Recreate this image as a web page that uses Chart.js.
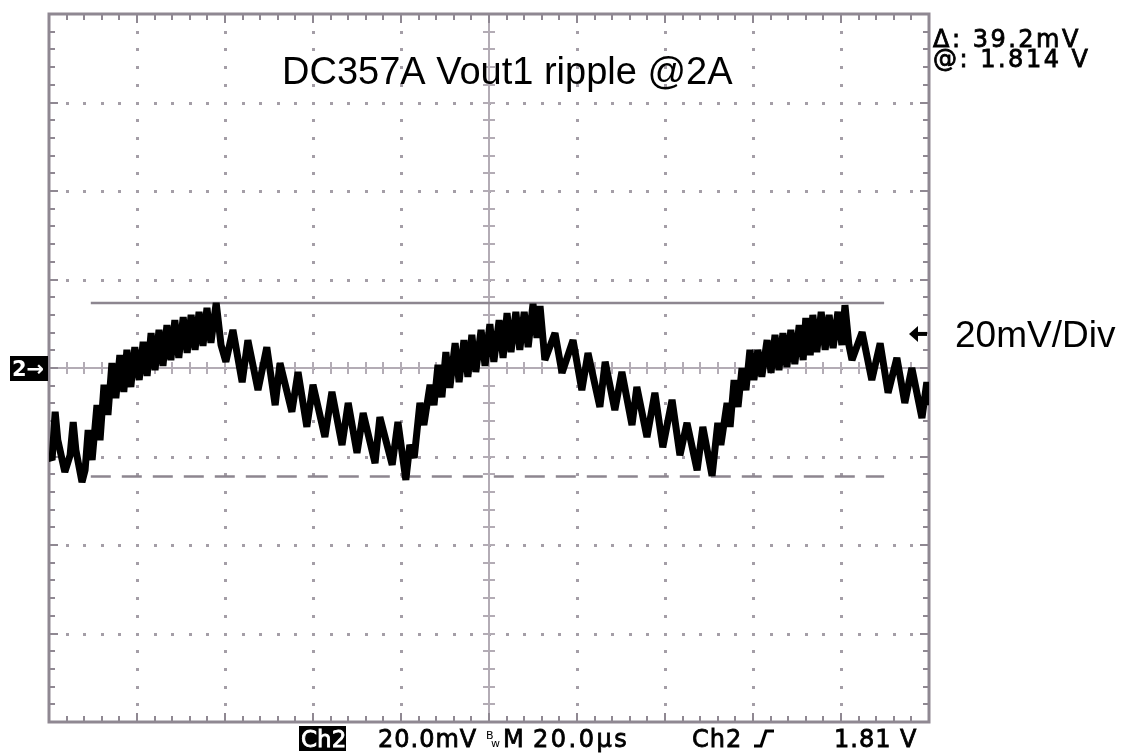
<!DOCTYPE html>
<html>
<head>
<meta charset="utf-8">
<script src="https://cdn.jsdelivr.net/npm/chart.js@4/dist/chart.umd.min.js"></script>
<style>
  html, body { margin: 0; padding: 0; background: #fff; }
  canvas { display: block; }
</style>
</head>
<body>
<canvas id="scope" width="1122" height="753"></canvas>
<script>
// time axis: 20 us/div, 10 divisions; volt axis: 20 mV/div, 8 divisions (offset 1.81 V)
const timeRange = [0, 200];
const mvRange = [-80, 80];
const usPerDiv = 20;
const mvPerDiv = 20;

// Vout1 ripple trace (us, mV)
const timeUs = [
  0.0, 0.7, 1.4, 2.0, 3.6, 4.8, 5.5, 6.1, 7.5, 8.2, 8.9, 9.8, 10.9, 11.6, 12.5, 13.4, 14.3, 15.2, 16.1, 17.0,
  17.7, 18.6, 19.5, 20.5, 21.4, 22.3, 23.2, 24.1, 25.0, 25.9, 26.8, 27.7, 28.6, 29.5, 30.5, 31.4, 32.3, 33.2,
  34.1, 35.0, 35.9, 36.8, 38.0,
  39.1, 40.2, 41.8, 43.9, 45.2, 47.5, 49.5, 51.4, 52.5, 55.2, 56.6, 58.6, 60.0, 62.7, 64.3, 66.6, 68.0, 70.0,
  71.4, 74.1, 75.2, 78.0, 79.3, 81.1,
  82.0, 83.0, 84.3, 85.2, 86.6, 87.5, 88.4, 89.3, 90.2, 91.1, 92.3, 93.2, 94.3, 95.2, 96.1, 97.0, 98.2, 99.1,
  100.2, 101.1, 102.3, 103.2, 104.1, 105.0, 106.1, 107.0, 108.0, 108.9, 110.0, 110.9, 111.6, 112.7,
  115.0, 116.6, 119.1, 121.1, 122.5, 125.2, 126.4, 128.6, 130.2, 132.5, 133.6, 135.9, 137.7, 139.5, 141.6,
  143.4, 145.0, 147.3, 148.6, 150.7,
  152.0, 152.7, 154.1, 154.8, 155.7, 156.6, 157.5, 158.4, 159.3, 160.2, 161.1, 162.0, 163.2, 164.1, 165.0,
  165.9, 166.8, 167.7, 168.6, 169.5, 170.5, 171.4, 172.0, 173.0, 173.6, 174.5, 175.5, 176.4, 177.3, 178.2,
  179.3, 180.2, 180.9, 181.8, 182.5,
  184.8, 187.0, 188.9, 190.7, 192.7, 194.5, 196.1, 198.4, 199.5, 200.0
];
const rippleMv = [
  -19.7, -20.8, -9.9, -16.3, -23.5, -19.7, -12.2, -18.5, -25.8, -23.1, -14.0, -20.8, -8.4, -16.3, -3.8, -10.6, 1.1, -6.8, 2.9, -5.4,
  4.1, -4.3, 4.7, -2.7, 5.9, -1.8, 7.9, -0.5, 8.6, 0.5, 9.7, 1.8, 10.8, 2.3, 11.5, 3.4, 12.0, 4.1,
  12.7, 5.0, 13.6, 5.7, 14.7,
  5.2, 1.4, 8.6, -3.2, 6.3, -5.0, 4.7, -8.4, 1.1, -9.9, -0.9, -13.3, -3.8, -15.6, -5.4, -17.4, -7.9, -19.2,
  -10.2, -21.5, -11.1, -21.9, -12.2, -25.3,
  -17.4, -20.3, -7.9, -12.9, -3.8, -8.4, 0.7, -6.6, 3.6, -4.5, 5.6, -3.2, 6.3, -2.0, 7.5, -0.9, 8.6, 0.5,
  9.9, 1.4, 10.8, 2.3, 12.4, 3.6, 12.7, 4.1, 12.7, 4.7, 14.5, 6.8, 14.0, 1.8,
  7.9, -1.1, 6.3, -5.0, 3.4, -8.8, 1.4, -9.5, -0.9, -12.9, -4.3, -15.6, -5.6, -17.9, -7.2,
  -19.7, -12.4, -23.1, -13.3, -24.4,
  -12.4, -17.4, -7.9, -13.3, -2.7, -8.8, 0.0, -5.0, 4.1, -2.7, 4.1, -2.0, 6.3, -1.1, 7.5,
  -0.5, 7.9, 0.2, 8.6, 0.9, 9.7, 1.8, 11.3, 2.9, 12.0, 3.6, 12.7, 4.1, 12.0, 4.5,
  12.7, 5.2, 14.2, 5.2, 1.8,
  8.1, -2.7, 5.6, -5.6, 2.3, -7.9, 0.0, -11.3, -3.2, -8.4
];

// horizontal bar cursors (mV) and their span (us)
const cursorMv = [14.7, -24.5];
const cursorSpanUs = [9.5, 189.8];
const triggerMv = 7.7;
const groundMv = 0;

const GRID = '#a49ea7';
const FRAME = '#8f8892';
const CURSOR = '#8d8690';

const trace = timeUs.map((t, i) => ({ x: t, y: rippleMv[i] }));
const cursorLine = v => cursorSpanUs.map(t => ({ x: t, y: v }));

// scope-style text: regular face with a thin outline to thicken it a bit
function scopeText(ctx, str, x, y) {
  ctx.fillText(str, x, y);
  ctx.strokeText(str, x, y);
}

const graticule = {
  id: 'graticule',
  beforeDatasetsDraw(chart) {
    const { ctx, chartArea: a, scales: { x, y } } = chart;
    const xDivs = (timeRange[1] - timeRange[0]) / usPerDiv;
    const yDivs = (mvRange[1] - mvRange[0]) / mvPerDiv;
    const xMinor = usPerDiv / 5, yMinor = mvPerDiv / 5;
    const cx = x.getPixelForValue((timeRange[0] + timeRange[1]) / 2);
    const cy = y.getPixelForValue((mvRange[0] + mvRange[1]) / 2);
    ctx.save();
    ctx.fillStyle = GRID;
    // dotted division lines
    for (let i = 1; i < xDivs; i++) {
      if (i === xDivs / 2) continue;
      const px = Math.round(x.getPixelForValue(i * usPerDiv));
      for (let v = mvRange[0] + yMinor; v < mvRange[1]; v += yMinor) {
        ctx.fillRect(px - 1, Math.round(y.getPixelForValue(v)) - 1, 3, 3);
      }
    }
    for (let j = 1; j < yDivs; j++) {
      if (j === yDivs / 2) continue;
      const py = Math.round(y.getPixelForValue(mvRange[0] + j * mvPerDiv));
      for (let t = xMinor; t < timeRange[1]; t += xMinor) {
        ctx.fillRect(Math.round(x.getPixelForValue(t)) - 1, py - 1, 3, 3);
      }
    }
    // centre cross
    ctx.strokeStyle = '#b3acb5';
    ctx.lineWidth = 2;
    ctx.beginPath();
    ctx.moveTo(a.left, cy); ctx.lineTo(a.right, cy);
    ctx.moveTo(cx, a.top); ctx.lineTo(cx, a.bottom);
    ctx.stroke();
    ctx.beginPath();
    for (let t = xMinor; t < timeRange[1]; t += xMinor) {
      const px = Math.round(x.getPixelForValue(t));
      ctx.moveTo(px, cy - 6); ctx.lineTo(px, cy + 6);
    }
    for (let v = mvRange[0] + yMinor; v < mvRange[1]; v += yMinor) {
      const py = Math.round(y.getPixelForValue(v));
      ctx.moveTo(cx - 6, py); ctx.lineTo(cx + 6, py);
    }
    ctx.stroke();
    // frame ticks
    ctx.strokeStyle = FRAME;
    ctx.beginPath();
    for (let t = xMinor; t < timeRange[1]; t += xMinor) {
      const px = Math.round(x.getPixelForValue(t));
      const len = Math.abs(t % usPerDiv) < 0.01 ? 9 : 6;
      ctx.moveTo(px, a.top); ctx.lineTo(px, a.top + len);
      ctx.moveTo(px, a.bottom); ctx.lineTo(px, a.bottom - len);
    }
    for (let v = mvRange[0] + yMinor; v < mvRange[1]; v += yMinor) {
      const py = Math.round(y.getPixelForValue(v));
      const len = Math.abs(v % mvPerDiv) < 0.01 ? 9 : 6;
      ctx.moveTo(a.left, py); ctx.lineTo(a.left + len, py);
      ctx.moveTo(a.right, py); ctx.lineTo(a.right - len, py);
    }
    ctx.stroke();
    ctx.lineWidth = 3;
    ctx.strokeRect(a.left, a.top, a.right - a.left, a.bottom - a.top);
    ctx.restore();
  },
  afterDraw(chart) {
    const { ctx, chartArea: a, scales: { y } } = chart;
    ctx.save();
    ctx.fillStyle = '#000';
    ctx.strokeStyle = '#000';
    ctx.textBaseline = 'alphabetic';
    ctx.font = '38px "Liberation Sans", Arial, sans-serif';
    ctx.fillText('DC357A Vout1 ripple @2A', 282, 84);
    ctx.font = '37px "Liberation Sans", Arial, sans-serif';
    ctx.fillText('20mV/Div', 955, 347);

    ctx.font = '24px "DejaVu Sans", sans-serif';
    ctx.letterSpacing = '2.5px';
    ctx.lineWidth = 0.8;
    scopeText(ctx, '\u0394: 39.2mV', 933, 47);
    scopeText(ctx, '@: 1.814 V', 933, 67);

    // channel ground marker
    const gy = y.getPixelForValue(groundMv);
    ctx.fillRect(10, gy - 12, 38, 25);
    ctx.fillStyle = '#fff';
    ctx.font = 'bold 21px "DejaVu Sans", sans-serif';
    ctx.letterSpacing = '0px';
    ctx.fillText('2\u2192', 12, gy + 8);

    // trigger level marker
    const ty = y.getPixelForValue(triggerMv);
    ctx.fillStyle = '#000';
    ctx.beginPath();
    ctx.moveTo(a.right - 20, ty);
    ctx.lineTo(a.right - 11, ty - 8);
    ctx.lineTo(a.right - 11, ty + 8);
    ctx.closePath();
    ctx.fill();
    ctx.fillRect(a.right - 12, ty - 2, 10, 4);

    // status line
    const by = 747;
    ctx.fillRect(299, 726, 47, 25);
    ctx.fillStyle = '#fff';
    ctx.strokeStyle = '#fff';
    ctx.font = '23px "DejaVu Sans", sans-serif';
    scopeText(ctx, 'Ch2', 301, by);
    ctx.fillStyle = '#000';
    ctx.strokeStyle = '#000';
    ctx.font = '24px "DejaVu Sans", sans-serif';
    ctx.letterSpacing = '1px';
    scopeText(ctx, '20.0mV', 378, by);
    scopeText(ctx, 'M', 503, by);
    ctx.letterSpacing = '2.5px';
    scopeText(ctx, '20.0\u00b5s', 533, by);
    ctx.letterSpacing = '1px';
    scopeText(ctx, 'Ch2', 692, by);
    scopeText(ctx, '1.81 V', 834, by);
    ctx.letterSpacing = '0px';
    ctx.font = '11px "DejaVu Sans", sans-serif';
    ctx.fillText('B', 486, by - 8);
    ctx.fillText('w', 491, by);
    ctx.lineWidth = 3;
    ctx.beginPath();
    ctx.moveTo(754, by - 1);
    ctx.lineTo(761, by - 1);
    ctx.lineTo(766, by - 16);
    ctx.lineTo(774, by - 16);
    ctx.stroke();
    ctx.restore();
  }
};

new Chart(document.getElementById('scope'), {
  type: 'line',
  data: {
    datasets: [{
      label: 'Vout1 ripple',
      data: trace,
      borderColor: '#000',
      borderWidth: 7,
      borderJoinStyle: 'bevel',
      pointRadius: 0,
      tension: 0,
      order: 0
    }, {
      label: 'cursor 1',
      data: cursorLine(cursorMv[0]),
      borderColor: CURSOR,
      borderWidth: 2.5,
      pointRadius: 0,
      order: 1
    }, {
      label: 'cursor 2',
      data: cursorLine(cursorMv[1]),
      borderColor: CURSOR,
      borderWidth: 2.5,
      borderDash: [20, 11],
      pointRadius: 0,
      order: 1
    }]
  },
  options: {
    responsive: false,
    animation: false,
    layout: { padding: { left: 49, top: 14, right: 193, bottom: 31 } },
    plugins: { legend: { display: false }, tooltip: { enabled: false } },
    scales: {
      x: { type: 'linear', min: timeRange[0], max: timeRange[1], display: false },
      y: { type: 'linear', min: mvRange[0], max: mvRange[1], display: false }
    }
  },
  plugins: [graticule]
});
</script>
</body>
</html>
